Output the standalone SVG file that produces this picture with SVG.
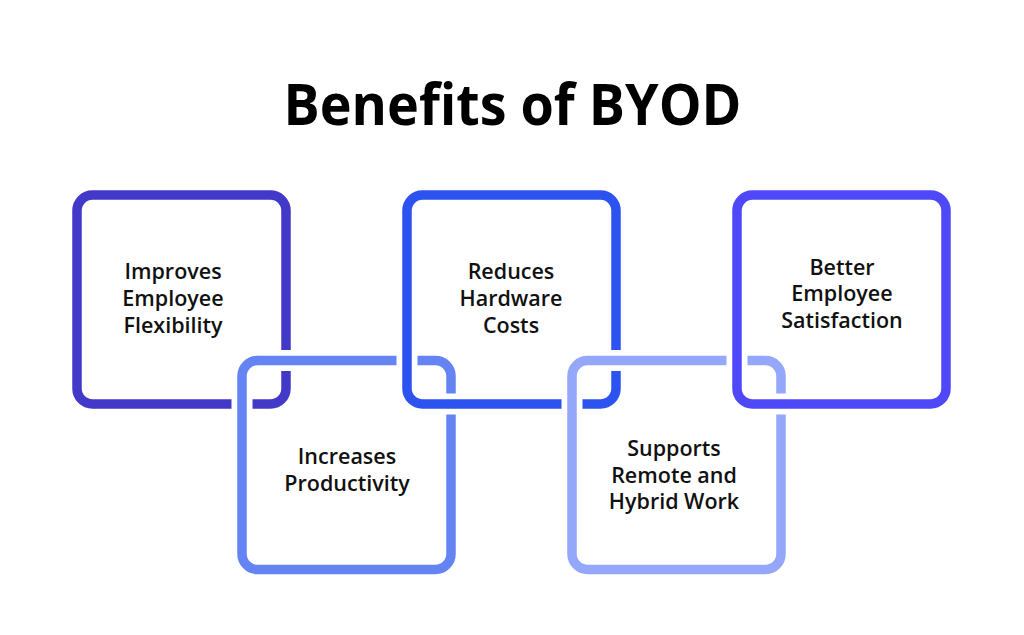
<svg xmlns="http://www.w3.org/2000/svg" width="1024" height="635" viewBox="0 0 1024 635">
<style>
.halo{fill:none;stroke:#ffffff;stroke-width:21}
.box{fill:none;stroke-width:9.5}
.lbl{font-family:"Open Sans","Noto Sans","Liberation Sans",sans-serif;font-size:21.5px;font-weight:600;fill:#111111;text-anchor:middle}
.title{font-family:"Open Sans","Noto Sans","Liberation Sans",sans-serif;font-size:58px;font-weight:700;fill:#000000;text-anchor:middle}
</style>
<rect width="1024" height="635" fill="#ffffff"/>
<text class="title" x="512.5" y="125" textLength="458" lengthAdjust="spacingAndGlyphs">Benefits of BYOD</text>
<g id="node-improves">
<rect class="box" x="77" y="195" width="209" height="209" rx="15.5" stroke="#4339C9"/>
<text class="lbl" x="173" y="279">Improves</text>
<text class="lbl" x="173" y="306">Employee</text>
<text class="lbl" x="173" y="333">Flexibility</text>
</g>
<g id="node-increases">
<rect class="halo" x="242" y="360.5" width="209" height="209" rx="15.5"/>
<rect class="box" x="242" y="360.5" width="209" height="209" rx="15.5" stroke="#6484F4"/>
<text class="lbl" x="347" y="464">Increases</text>
<text class="lbl" x="347" y="491">Productivity</text>
</g>
<g id="node-reduces">
<rect class="halo" x="407" y="195" width="209" height="209" rx="15.5"/>
<rect class="box" x="407" y="195" width="209" height="209" rx="15.5" stroke="#2C53EF"/>
<text class="lbl" x="511" y="279">Reduces</text>
<text class="lbl" x="511" y="306">Hardware</text>
<text class="lbl" x="511" y="333">Costs</text>
</g>
<g id="node-supports">
<rect class="halo" x="572" y="360.5" width="209" height="209" rx="15.5"/>
<rect class="box" x="572" y="360.5" width="209" height="209" rx="15.5" stroke="#94A7FA"/>
<text class="lbl" x="674" y="456">Supports</text>
<text class="lbl" x="674" y="482.5">Remote and</text>
<text class="lbl" x="674" y="509">Hybrid Work</text>
</g>
<g id="node-better">
<rect class="halo" x="737" y="195" width="209" height="209" rx="15.5"/>
<rect class="box" x="737" y="195" width="209" height="209" rx="15.5" stroke="#4F48F8"/>
<text class="lbl" x="842" y="274.5">Better</text>
<text class="lbl" x="842" y="301">Employee</text>
<text class="lbl" x="842" y="327.5">Satisfaction</text>
</g>
<g id="connectors"/>
</svg>
